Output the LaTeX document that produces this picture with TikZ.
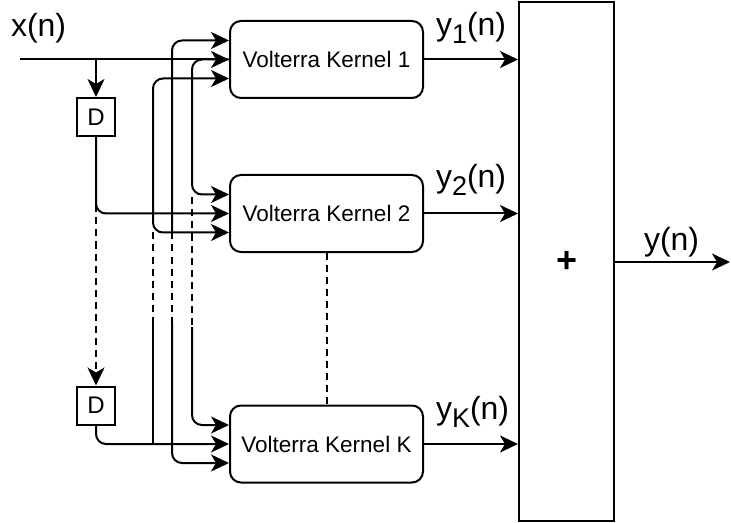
\documentclass[tikz,border=0pt]{standalone}
\usepackage{fontspec}
\setmainfont{Liberation Sans}
\usetikzlibrary{arrows.meta,calc}
\newcommand\lowsub[1]{\raisebox{-0.25em}{\fontsize{27bp}{30bp}\selectfont #1}}
\begin{document}
\begin{tikzpicture}[x=1bp,y=-1bp,
  line width=2bp,
  kern/.style={draw, rounded corners=11bp, minimum width=193bp, minimum height=77bp, inner sep=0pt, font=\fontsize{22.5bp}{27bp}\selectfont},
  delay/.style={draw, minimum width=38bp, minimum height=38bp, inner sep=0pt, font=\fontsize{24bp}{28bp}\selectfont},
  lbl/.style={anchor=base west, inner sep=0pt, font=\fontsize{32bp}{38bp}\selectfont},
  wire/.style={rounded corners=10bp},
  tip/.tip={Stealth[length=18bp,width=17bp,inset=5bp]},
  arr/.style={-tip},
  larr/.style={tip-},
  barr/.style={tip-tip},
  dsh/.style={dash pattern=on 7bp off 5bp},
]
\useasboundingbox (0,0) rectangle (731,523);

% blocks
\node[kern] (k1) at (326.5,59.5) {Volterra Kernel 1};
\node[kern] (k2) at (326.5,213.5) {Volterra Kernel 2};
\node[kern] (kK) at (326.5,444) {Volterra Kernel K};
\node[delay] (d1) at (96,117) {D};
\node[delay] (d2) at (96,405.5) {D};
\node[draw, minimum width=95bp, minimum height=519bp, inner sep=0pt] (sum) at (566.5,261.5) {};
\node[font=\bfseries\fontsize{36bp}{40bp}\selectfont, inner sep=0pt] (plus) at (567,262) {+};

% labels
\node[lbl] (xl) at (10,37) {x(n)};
\node[lbl] (y1l) at (435,35.5) {y\lowsub{1}(n)};
\node[lbl] (y2l) at (435,187.5) {y\lowsub{2}(n)};
\node[lbl] (yKl) at (435,419.5) {y\lowsub{K}(n)};
\node[lbl] (yl) at (643,251) {y(n)};

% input points on kernels
\coordinate (k1a) at ($(k1.west)+(0,-19)$);
\coordinate (k1c) at ($(k1.west)+(0,19)$);
\coordinate (k2a) at ($(k2.west)+(0,-19)$);
\coordinate (k2c) at ($(k2.west)+(0,19)$);
\coordinate (kKa) at ($(kK.west)+(0,-19)$);
\coordinate (kKc) at ($(kK.west)+(0,19)$);

% free ends
\coordinate (xin) at (20,59.5);
\coordinate (a1) at (153,322);
\coordinate (a2) at (172,322);
\coordinate (a3) at (192,327);
\coordinate (yout) at (730,262);

% x(n) input
\draw[arr] (xin) -- (k1.west);
\draw[arr] (d1.north |- xin) -- (d1.north);

% delay chain
\draw[arr,wire] (d1.south) |- (k2.west);
\draw[arr,dsh] ($(d1.south |- k2.west)+(0,-8)$) -- (d2.north);
\draw[arr,wire] (d2.south) |- (kK.west);

% column x=192
\draw[arr,wire] (k1.west) -| (a3 |- k2a) -- (k2a);
\draw[dsh] ($(a3 |- k2a)+(0,3)$) -- (a3);
\draw[arr,wire] (a3) |- (kKa);

% column x=172
\draw[larr,wire] (k1a) -| (a2 |- k2c);
\draw[dsh] (a2 |- k2c) -- (a2);
\draw[arr,wire] (a2) |- (kKc);

% column x=153
\draw[barr,wire] (k1c) -| (a1 |- k2c) -- (k2c);
\draw[dsh] (a1 |- k2c) -- (a1);
\draw (a1) -- (a1 |- kK.west);

% between kernels
\draw[dsh] (k2.south) -- (kK.north);

% outputs
\draw[arr] (k1.east) -- (k1.east -| sum.west);
\draw[arr] (k2.east) -- (k2.east -| sum.west);
\draw[arr] (kK.east) -- (kK.east -| sum.west);
\draw[arr] (sum.east |- yout) -- (yout);
\end{tikzpicture}
\end{document}
